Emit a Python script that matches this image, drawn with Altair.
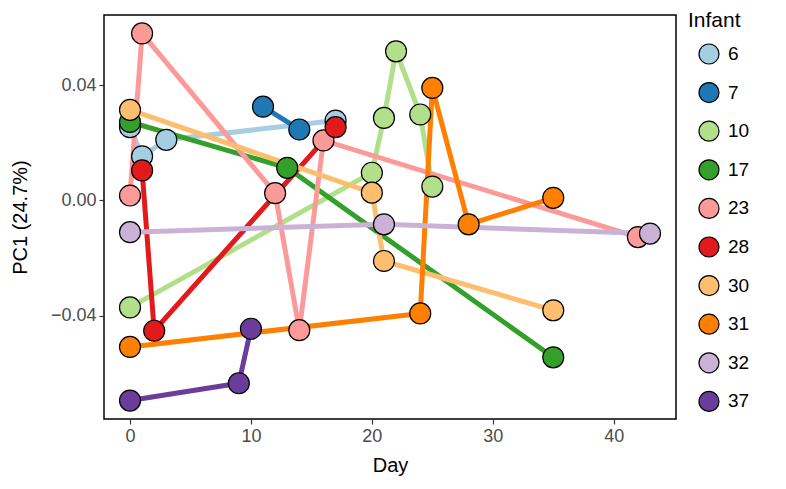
import altair as alt
import pandas as pd

infants = ["6", "7", "10", "17", "23", "28", "30", "31", "32", "37"]
colors = ["#A6CEE3", "#1F78B4", "#B2DF8A", "#33A02C", "#FB9A99",
          "#E31A1C", "#FDBF6F", "#FF7F00", "#CAB2D6", "#6A3D9A"]

days_6 = [0, 1, 3, 17]
pc1_6 = [0.0254, 0.0153, 0.0210, 0.0277]
days_7 = [11, 14]
pc1_7 = [0.0325, 0.0246]
days_10 = [0, 20, 21, 22, 24, 25]
pc1_10 = [-0.0371, 0.0096, 0.0286, 0.0517, 0.0298, 0.0048]
days_17 = [0, 13, 35]
pc1_17 = [0.0272, 0.0113, -0.0544]
days_23 = [0, 1, 12, 14, 16, 42]
pc1_23 = [0.0017, 0.0579, 0.0025, -0.0450, 0.0208, -0.0127]
days_28 = [1, 2, 17]
pc1_28 = [0.0104, -0.0452, 0.0254]
days_30 = [0, 20, 21, 35]
pc1_30 = [0.0314, 0.0027, -0.0210, -0.0381]
days_31 = [0, 24, 25, 28, 35]
pc1_31 = [-0.0508, -0.0392, 0.0390, -0.0083, 0.0009]
days_32 = [0, 21, 43]
pc1_32 = [-0.0110, -0.0083, -0.0115]
days_37 = [0, 9, 10]
pc1_37 = [-0.0694, -0.0634, -0.0445]

x_ticks = [0, 10, 20, 30, 40]
y_ticks = [-0.04, 0.0, 0.04]

all_days = [days_6, days_7, days_10, days_17, days_23, days_28, days_30, days_31, days_32, days_37]
all_pc1 = [pc1_6, pc1_7, pc1_10, pc1_17, pc1_23, pc1_28, pc1_30, pc1_31, pc1_32, pc1_37]

rows = []
for inf, ds, vs in zip(infants, all_days, all_pc1):
    for d, v in zip(ds, vs):
        rows.append({"Infant": inf, "InfantLine": inf, "Day": d, "PC1": v})
df = pd.DataFrame(rows)

FONT = "Liberation Sans"

x = alt.X("Day:Q",
          scale=alt.Scale(domain=[-2.15, 45.15], nice=False, zero=False),
          axis=alt.Axis(values=x_ticks, title="Day", titleY=36, titleBaseline="top"))
y = alt.Y("PC1:Q",
          scale=alt.Scale(domain=[-0.0758, 0.0643], nice=False, zero=False),
          axis=alt.Axis(values=y_ticks, format=".2f", title="PC1 (24.7%)",
                        labelExpr="replace(datum.label, '-', '\u2212')",
                        titleX=-74, titleY=202, titleAngle=270,
                        titleBaseline="bottom", titleAlign="center"))

lines = alt.Chart(df).mark_line(strokeWidth=5, opacity=1).encode(
    x=x, y=y,
    stroke=alt.Stroke("InfantLine:N", scale=alt.Scale(domain=infants, range=colors),
                      legend=None),
    order="Day:Q",
)

points = alt.Chart(df).mark_circle(size=440, stroke="black", strokeWidth=1.2,
                                    opacity=1, fillOpacity=1).encode(
    x=x, y=y,
    fill=alt.Fill("Infant:N", scale=alt.Scale(domain=infants, range=colors),
                  legend=alt.Legend(orient="none", legendX=584, legendY=-5,
                                    title="Infant", titleFontSize=21,
                                    titleFont=FONT, titleFontWeight="normal",
                                    titleColor="black", titleBaseline="top",
                                    titlePadding=12,
                                    labelFontSize=19, labelFont=FONT,
                                    labelColor="black", labelOffset=8,
                                    symbolSize=400, symbolType="circle",
                                    symbolStrokeColor="black",
                                    symbolStrokeWidth=1.2, symbolOpacity=1,
                                    symbolOffset=10,
                                    rowPadding=12.6, padding=0)),
)

chart = (lines + points).resolve_legend(fill="independent", stroke="independent").properties(
    width=572, height=404,
    autosize=alt.AutoSizeParams(type="none"),
    padding={"left": 96, "top": 7, "right": 102, "bottom": 66},
).configure_view(
    stroke="black", strokeWidth=1.5
).configure_axis(
    grid=False, domain=False, tickColor="#333333", tickWidth=1.2, tickSize=5,
    labelColor="#4D4D4D", labelFontSize=18, labelFont=FONT, labelPadding=3,
    titleFont=FONT, titleFontSize=20, titleColor="black", titleFontWeight="normal",
)

chart.save("out.html", embed_options={"renderer": "svg", "actions": False})
